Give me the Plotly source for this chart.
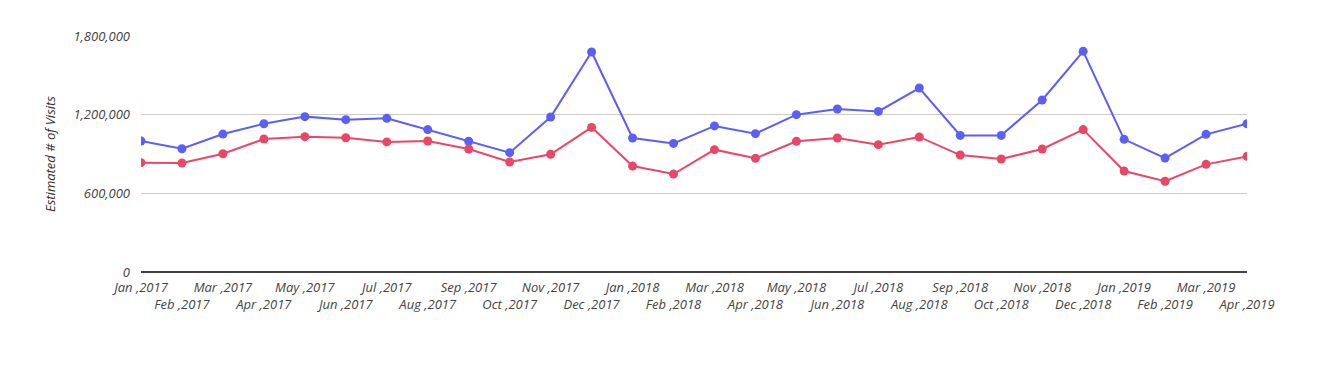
import plotly.graph_objects as go

months = ["Jan ,2017", "Feb ,2017", "Mar ,2017", "Apr ,2017", "May ,2017", "Jun ,2017", "Jul ,2017",
          "Aug ,2017", "Sep ,2017", "Oct ,2017", "Nov ,2017", "Dec ,2017", "Jan ,2018", "Feb ,2018",
          "Mar ,2018", "Apr ,2018", "May ,2018", "Jun ,2018", "Jul ,2018", "Aug ,2018", "Sep ,2018",
          "Oct ,2018", "Nov ,2018", "Dec ,2018", "Jan ,2019", "Feb ,2019", "Mar ,2019", "Apr ,2019"]

series_blue = [999000, 940000, 1052000, 1131000, 1185000, 1162000, 1172000,
               1086000, 997000, 910000, 1182000, 1678000, 1022000, 981000,
               1114000, 1055000, 1200000, 1243000, 1225000, 1403000, 1042000,
               1042000, 1312000, 1683000, 1012000, 869000, 1050000, 1131000]

series_red = [834000, 831000, 902000, 1014000, 1032000, 1024000, 992000,
              999000, 938000, 839000, 898000, 1103000, 808000, 747000,
              933000, 867000, 997000, 1022000, 971000, 1030000, 892000,
              862000, 938000, 1086000, 770000, 692000, 821000, 882000]

y_ticks = [0, 600000, 1200000, 1800000]
y_ticklabels = ["0", "600,000", "1,200,000", "1,800,000"]

xpos = list(range(len(months)))
ticktext = [m if i % 2 == 0 else "<br>" + m for i, m in enumerate(months)]

BLUE = "#5b5ff8"
RED = "#ea4767"
FONT = "Open Sans"

fig = go.Figure()
fig.add_trace(go.Scatter(x=xpos, y=series_blue, mode="lines+markers",
                         line=dict(color=BLUE, width=2),
                         marker=dict(color=BLUE, size=9), name="Series 1"))
fig.add_trace(go.Scatter(x=xpos, y=series_red, mode="lines+markers",
                         line=dict(color=RED, width=2),
                         marker=dict(color=RED, size=9), name="Series 2"))

fig.update_layout(
    width=1331, height=376,
    margin=dict(l=133, r=92, t=28, b=112),
    plot_bgcolor="white", paper_bgcolor="white",
    showlegend=False,
    font=dict(family=FONT, size=12, color="#444"),
    xaxis=dict(
        range=[0, len(months) - 1],
        tickvals=xpos, ticktext=ticktext,
        tickfont=dict(family=FONT, size=13, color="#444", style="italic"),
        showgrid=False, zeroline=False,
        showline=False, ticks="", ticklabeloverflow="allow",
        tickangle=0, ticklabelstandoff=6,
    ),
    yaxis=dict(
        range=[0, 1800000],
        tickvals=y_ticks, ticktext=y_ticklabels,
        tickfont=dict(family=FONT, size=13, color="#444", style="italic"),
        showgrid=True, gridcolor="#cccccc", gridwidth=1,
        zeroline=True, zerolinecolor="#444444", zerolinewidth=1.5,
        showline=False, ticks="", ticklabelstandoff=10,
    ),
    annotations=[dict(
        text="Estimated # of Visits", textangle=-90,
        xref="paper", yref="paper", x=(50 - 141) / 1106, y=0.5,
        xanchor="center", yanchor="middle", showarrow=False,
        font=dict(family=FONT, size=13, color="#333", style="italic"),
    )],
)

fig.write_html("out.html")
